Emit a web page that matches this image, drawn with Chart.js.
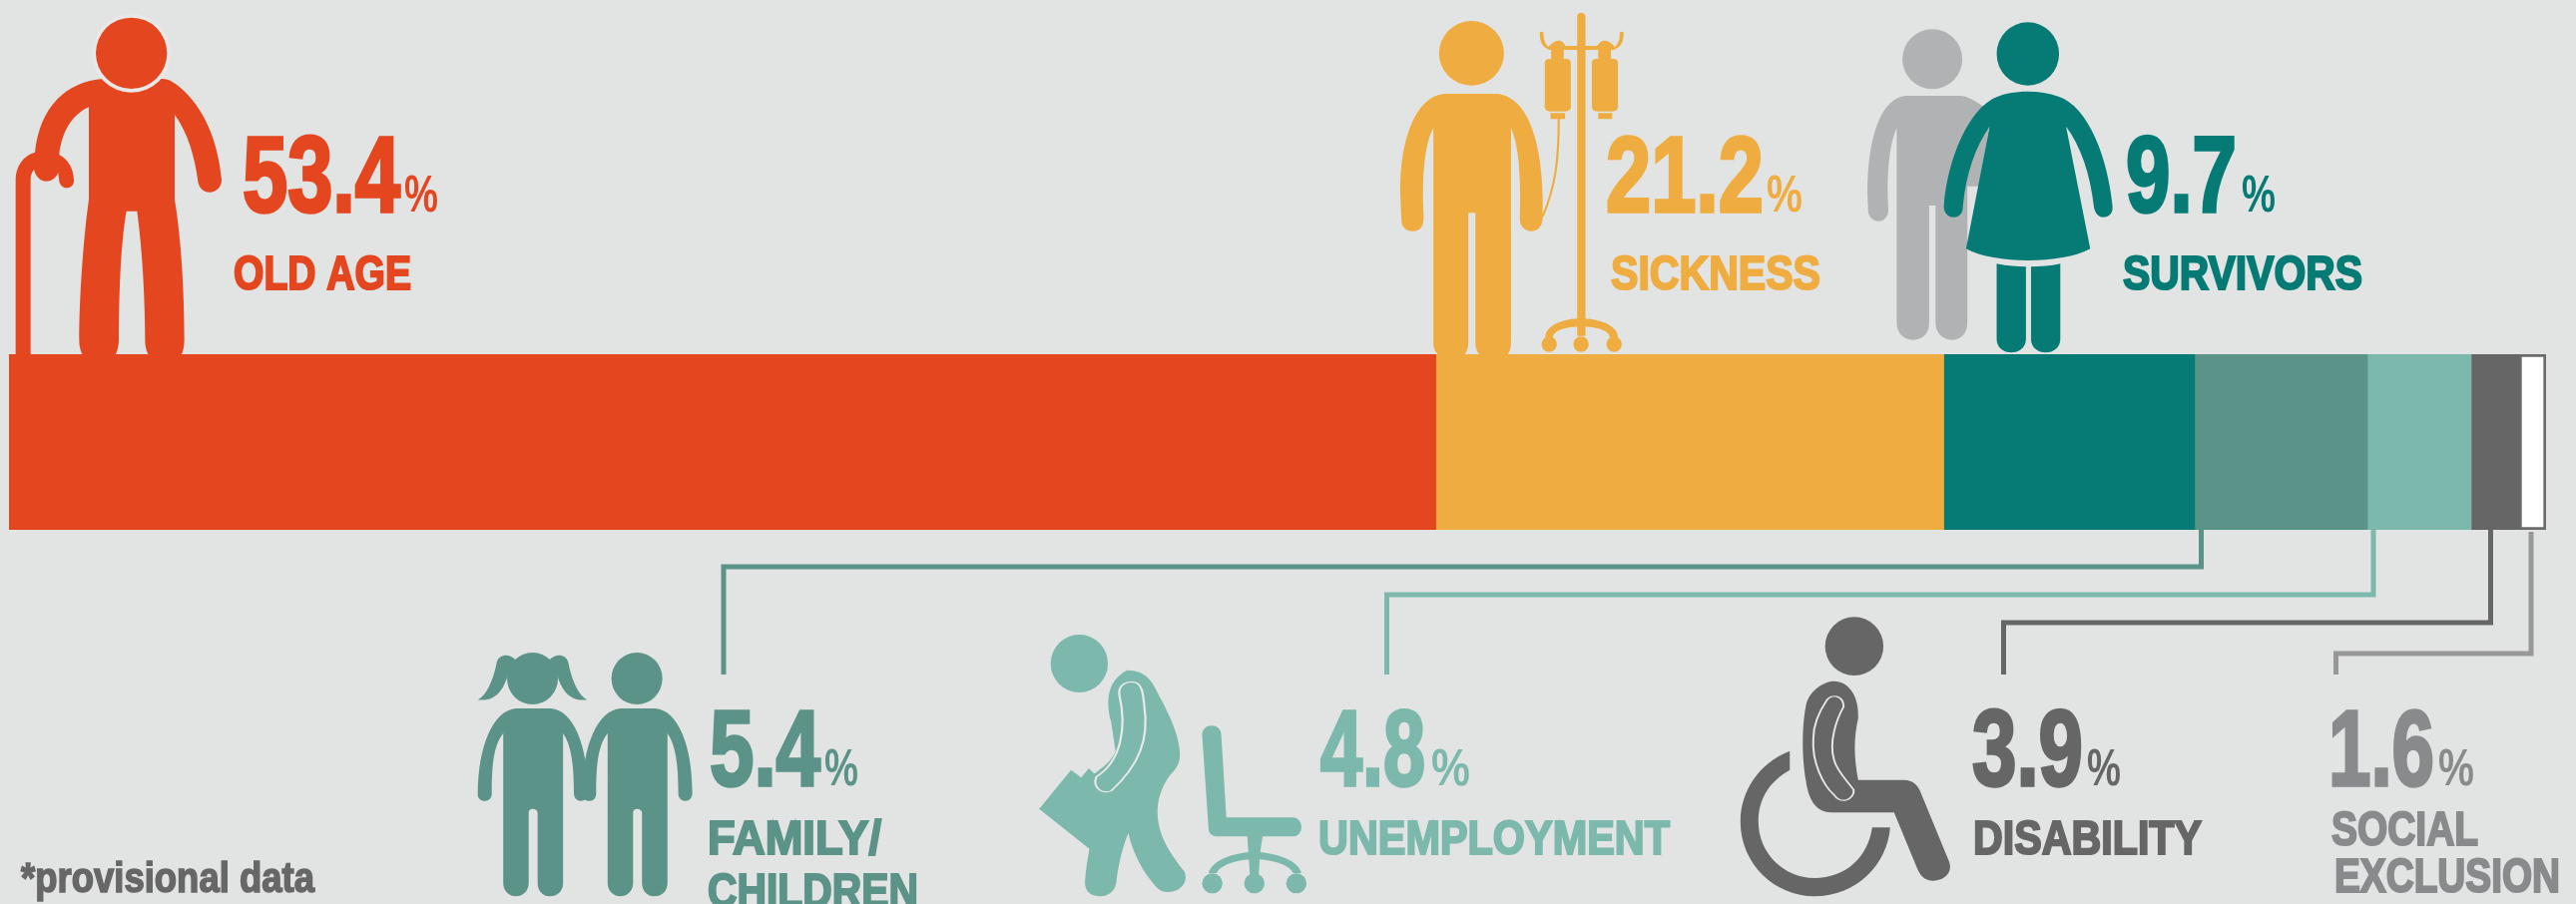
<!DOCTYPE html>
<html>
<head>
<meta charset="utf-8">
<title>Social benefits by function</title>
<script src="https://cdn.jsdelivr.net/npm/chart.js@4/dist/chart.umd.min.js"></script>
<style>
    html, body { margin: 0; padding: 0; background: #e2e4e3; overflow: hidden; }
    canvas { display: block; }
</style>
</head>
<body>
<canvas id="benefitsChart" width="2581" height="906"></canvas>
<script>
// data
const categories = ['OLD AGE', 'SICKNESS', 'SURVIVORS', 'FAMILY/CHILDREN', 'UNEMPLOYMENT', 'DISABILITY', 'SOCIAL EXCLUSION'];
// the percentages printed next to each icon
const printedShares = ['53.4', '21.2', '9.7', '5.4', '4.8', '3.9', '1.6'];
// the bar is not drawn quite to scale in the original, so these are the lengths measured on the bar
const barLengths = [56.24, 20.02, 9.89, 6.81, 4.09, 1.89, 1.06];
const footnote = '*provisional data';

const barColors = ['#e4471f', '#efad41', '#067a74', '#5c9388', '#7cb8ac', '#666666', '#ffffff'];
const textColors = ['#e4471f', '#efad41', '#067a74', '#5c9388', '#7cb8ac', '#666666', '#898a8c'];

// x, width of the number, x, width of the % sign, baseline
const numberBoxes = [
    [243, 158, 405, 34, 212],
    [1609, 158, 1770, 36, 212],
    [2130, 111, 2246, 34, 212],
    [711, 111, 826, 34, 787],
    [1323, 105, 1434, 39, 787],
    [1976, 111, 2091, 34, 787],
    [2333, 106, 2443, 36, 787]
];
// text line, x, width, baseline, colour index
const captionLines = [
    ['OLD AGE', 234, 178, 290, 0],
    ['SICKNESS', 1614, 210, 290, 1],
    ['SURVIVORS', 2127, 240, 290, 2],
    ['FAMILY/', 709, 174, 856, 3],
    ['CHILDREN', 709, 211, 909, 3],
    ['UNEMPLOYMENT', 1321, 352, 856, 4],
    ['DISABILITY', 1977, 229, 856, 5],
    ['SOCIAL', 2336, 147, 847, 6],
    ['EXCLUSION', 2339, 226, 894, 6]
];
// leader lines: bar x, y of the run, label x, colour
const leaders = [
    [2205.5, 568, 725, '#5c9388'],
    [2378, 596, 1389.5, '#7cb8ac'],
    [2495.5, 624, 2007.5, '#666666'],
    [2536, 655, 2340.5, '#989898']
];

function el(cx, cy, rx, ry) {
    return `M${cx - rx} ${cy}A${rx} ${ry} 0 1 0 ${cx + rx} ${cy}A${rx} ${ry} 0 1 0 ${cx - rx} ${cy}Z`;
}

// the pictograms, each drawn in its own little space
function inSpace(ctx, x, y, sx, sy, fn) {
    ctx.save();
    ctx.translate(x, y);
    ctx.scale(sx, sy);
    fn();
    ctx.restore();
}

function fill(ctx, color, d) {
    ctx.fillStyle = color;
    ctx.fill(new Path2D(d));
}

function outline(ctx, color, width, d) {
    ctx.strokeStyle = color;
    ctx.lineWidth = width;
    ctx.lineCap = 'round';
    ctx.stroke(new Path2D(d));
}

function drawOldMan(ctx) {
    const c = barColors[0];
    inSpace(ctx, 0, 0, 1 / 3, 1 / 3, () => {
        fill(ctx, c, 'M310 237C200 245 120 320 105 458C70 468 47 500 47 540L47 1070L92 1070L92 540C92 528 96 518 102 510C108 532 122 545 138 545C158 545 172 530 175 518C176 528 177 535 178 545C180 556 190 565 200 565C214 565 224 554 222 540C220 505 205 480 178 465C185 400 215 345 267 322L267 600C250 720 238 900 238 1025C238 1045 244 1060 250 1070L345 1070C353 1058 357 1040 357 1020C358 850 365 720 380 635L412 635C428 750 436 900 436 1025C436 1045 442 1060 448 1070L543 1070C551 1058 554 1040 554 1020C554 880 545 720 525 600L525 345C565 400 585 470 595 545C598 565 612 578 630 578C650 578 667 562 666 540C655 420 610 320 540 262C525 250 510 237 487 237Z');
        fill(ctx, '#e9e8e6', el(395, 160, 118, 118));
        fill(ctx, c, el(395, 160, 107, 107));
    });
}

function drawSickMan(ctx) {
    const c = barColors[1];
    inSpace(ctx, 1380, 0, 1 / 1.568, 1 / 3, () => {
        fill(ctx, c, el(148, 160, 51, 97));
        fill(ctx, c, 'M105 282C60 290 35 420 36 580L38 665C38 680 45 695 55 695C68 695 73 680 73 650C70 560 72 440 88 385L88 1030C88 1050 92 1060 97 1070L135 1070C140 1060 143 1050 143 1030L143 640L154 640L154 1030C154 1050 158 1060 162 1070L204 1070C207 1060 210 1050 210 1030L210 385C225 450 225 560 224 660C224 680 232 695 242 695C252 695 260 680 260 650C262 500 250 300 190 282Z');
        // drip stand
        fill(ctx, c, 'M314 50C314 42 317 38 320 38C323 38 327 42 327 50L327 1010L314 1010Z');
        fill(ctx, c, 'M270 138L370 138L370 150L270 150Z');
        fill(ctx, c, 'M273 150L293 150L293 177L273 177ZM347 150L367 150L367 177L347 177Z');
        fill(ctx, c, 'M270 138C275 128 280 122 285 122C290 122 294 130 296 140L270 150ZM345 140C347 130 352 122 357 122C362 122 367 128 372 138L370 150Z');
        outline(ctx, c, 6, 'M258 98C258 130 265 145 275 148M384 98C384 130 377 145 367 148');
        fill(ctx, c, 'M270 177L297 177C302 177 304 182 304 190L304 322C304 330 300 335 295 335L272 335C266 335 263 330 263 322L263 190C263 182 265 177 270 177Z');
        fill(ctx, c, 'M344 177L371 177C376 177 378 182 378 190L378 322C378 330 374 335 369 335L346 335C340 335 337 330 337 322L337 190C337 182 339 177 344 177Z');
        fill(ctx, c, 'M272 340L295 340L295 358L272 358ZM347 340L369 340L369 358L347 358Z');
        outline(ctx, c, 3.5, 'M285 358C285 480 280 560 260 650');
        fill(ctx, c, 'M264 1015C264 975 295 958 320 958C345 958 378 975 378 1015L365 1015C365 995 345 982 320 982C295 982 276 995 276 1015Z');
        fill(ctx, c, el(270, 1035, 12, 23));
        fill(ctx, c, el(320, 1035, 12, 23));
        fill(ctx, c, el(372, 1035, 12, 23));
    });
}

function drawCouple(ctx) {
    const c = barColors[2];
    const grey = '#b1b2b3';
    inSpace(ctx, 1380, 0, 1 / 1.568, 1 / 3, () => {
        fill(ctx, grey, el(872, 178, 47, 90));
        fill(ctx, grey, 'M830 288C790 295 770 420 770 580L771 630C771 650 778 665 787 665C797 665 803 650 803 630C800 540 803 440 816 385L816 970C816 1000 826 1022 842 1022C858 1022 867 1000 867 970L867 618L877 618L877 970C877 1000 888 1022 903 1022C918 1022 927 1000 927 970L927 560L945 560L965 340C940 300 925 288 915 288Z');
        fill(ctx, c, el(1022, 162, 49, 95));
        fill(ctx, c, 'M1022 275C1000 275 985 282 975 290C930 320 895 480 890 620C890 640 897 653 905 653C915 653 920 640 920 620C925 520 940 440 962 380L925 748C970 795 1075 795 1120 748L1082 380C1105 440 1120 520 1126 625C1128 642 1133 653 1140 653C1150 653 1156 640 1155 620C1148 480 1118 320 1070 290C1055 280 1040 275 1022 275Z');
        fill(ctx, c, 'M973 793C990 800 1005 802 1019 802L1019 1020C1019 1045 1008 1060 996 1060C984 1060 973 1045 973 1020Z');
        fill(ctx, c, 'M1027 802C1042 802 1058 800 1073 793L1073 1020C1073 1045 1062 1060 1050 1060C1038 1060 1027 1045 1027 1020Z');
    });
}

function kidBody(ctx, c, dx) {
    inSpace(ctx, dx, 0, 1, 1, () => {
        fill(ctx, c, 'M105 510C70 515 45 620 45 770C45 780 50 788 56 788C63 788 67 780 67 765C67 680 70 620 85 585L85 1035C85 1060 95 1075 105 1075C115 1075 125 1060 125 1035L125 825C125 815 128 812 131 812C135 812 139 815 139 825L139 1035C139 1060 148 1075 158 1075C170 1075 179 1060 179 1035L179 585C192 620 196 680 196 765C196 780 201 788 207 788C213 788 218 780 218 765C218 620 195 515 160 510Z');
    });
}

function drawChildren(ctx) {
    const c = barColors[3];
    inSpace(ctx, 450, 540, 1 / 1.568, 1 / 3, () => {
        fill(ctx, c, el(131, 420, 40, 78));
        fill(ctx, c, 'M105 365C95 345 80 345 75 370C70 420 60 470 45 484C70 490 85 460 92 410Z');
        fill(ctx, c, 'M157 365C167 345 182 345 187 370C192 420 202 470 217 484C192 490 177 460 170 410Z');
        kidBody(ctx, c, 0);
        fill(ctx, c, el(295, 420, 40, 78));
        kidBody(ctx, c, 164);
    });
}

function drawJobless(ctx) {
    const c = barColors[4];
    inSpace(ctx, 450, 540, 1 / 1.568, 1 / 3, () => {
        fill(ctx, c, el(990, 375, 45, 87));
        fill(ctx, c, 'M1065 395C1095 395 1105 430 1115 470C1135 540 1148 600 1148 650C1148 680 1140 695 1132 712C1118 750 1112 790 1113 830C1115 900 1135 950 1155 1000C1162 1030 1150 1062 1130 1062C1118 1062 1112 1050 1108 1040C1090 1000 1075 950 1067 885C1055 940 1050 1000 1048 1035C1046 1060 1035 1075 1023 1075C1008 1075 998 1060 999 1030C1000 1000 1003 960 1006 932L927 812L977 695L993 718L1005 690L1013 705L1015 705C1025 690 1040 670 1047 640L1040 550C1033 500 1030 430 1065 395Z');
        outline(ctx, '#e8eae9', 3.5, 'M1053 470C1050 440 1065 425 1078 432C1090 440 1090 470 1092 500C1100 600 1085 680 1040 758C1025 770 1010 745 1017 715C1055 670 1065 570 1053 470Z');
        // office chair
        fill(ctx, c, 'M1183 590C1183 572 1190 562 1198 562C1206 562 1213 572 1213 590L1221 838L1325 838C1334 838 1339 852 1339 866C1339 882 1334 895 1325 895L1278 895L1274 945L1272 1010L1258 1010L1254 895L1207 895C1197 895 1193 882 1193 870Z');
        fill(ctx, c, 'M1193 1005C1198 968 1230 943 1265 941C1300 943 1335 968 1339 1005L1326 1005C1322 985 1300 965 1265 963C1232 965 1210 985 1206 1005Z');
        fill(ctx, c, el(1199, 1036, 16, 30));
        fill(ctx, c, el(1265, 1036, 16, 30));
        fill(ctx, c, el(1331, 1036, 16, 30));
    });
}

function drawWheelchair(ctx) {
    const c = barColors[5];
    inSpace(ctx, 1700, 580, 1 / 1.78, 1 / 3, () => {
        fill(ctx, c, el(281, 203, 52, 88));
        fill(ctx, c, 'M245 308C270 308 290 350 288 420C280 480 280 530 288 605L370 605C385 605 395 620 400 645L450 850C458 885 440 908 422 908C405 908 398 890 393 870L352 703L240 703C215 703 200 670 195 610C185 510 190 420 195 380C200 340 225 308 245 308Z');
        outline(ctx, '#e8eae9', 3.5, 'M232 365C240 345 262 350 262 385C250 420 235 490 245 545C250 580 270 610 280 635C282 665 255 680 245 650C225 620 205 550 208 480C208 430 222 390 232 365Z');
        fill(ctx, c, 'M166 518C110 555 78 640 78 730C78 860 140 955 210 955C285 955 340 860 345 748L313 748C305 840 265 900 210 900C155 900 110 825 110 730C110 660 130 610 166 575Z');
    });
}

// draws a line of text squeezed to the width it has in the picture, thickened a bit with a stroke
function fitText(ctx, text, x, baseline, width, font, color, thicken) {
    ctx.save();
    ctx.font = font;
    ctx.fillStyle = color;
    ctx.strokeStyle = color;
    ctx.lineJoin = 'miter';
    ctx.lineWidth = thicken;
    ctx.textBaseline = 'alphabetic';
    ctx.textAlign = 'left';
    const measured = ctx.measureText(text).width;
    ctx.translate(x, baseline);
    ctx.scale(width / measured, 1);
    ctx.fillText(text, 0, 0);
    if (thicken > 0) ctx.strokeText(text, 0, 0);
    ctx.restore();
}

const narrow = '"Liberation Sans Narrow", "Liberation Sans"';

const infographicPlugin = {
    id: 'infographic',
    afterDraw(chart) {
        const ctx = chart.ctx;
        const bottom = chart.chartArea.bottom;
        drawOldMan(ctx);
        drawSickMan(ctx);
        drawCouple(ctx);
        drawChildren(ctx);
        drawJobless(ctx);
        drawWheelchair(ctx);

        leaders.forEach(([barX, runY, labelX, color], i) => {
            ctx.beginPath();
            ctx.moveTo(barX, i === 3 ? bottom + 2 : bottom);
            ctx.lineTo(barX, runY);
            ctx.lineTo(labelX, runY);
            ctx.lineTo(labelX, 676);
            ctx.strokeStyle = color;
            ctx.lineWidth = 5;
            ctx.lineJoin = 'miter';
            ctx.stroke();
        });

        printedShares.forEach((share, i) => {
            const [nx, nw, px, pw, base] = numberBoxes[i];
            fitText(ctx, share, nx, base, nw, `bold 108px ${narrow}`, textColors[i], 3.5);
            fitText(ctx, '%', px, base, pw, `bold 52px ${narrow}`, textColors[i], 0);
        });
        captionLines.forEach(([text, x, w, base, colorIndex]) => {
            fitText(ctx, text, x, base, w, `bold 49px ${narrow}`, textColors[colorIndex], 2.2);
        });
        fitText(ctx, footnote, 21, 894, 294, `bold 43px ${narrow}`, '#676767', 1.6);
    }
};

new Chart(document.getElementById('benefitsChart').getContext('2d'), {
    type: 'bar',
    data: {
        labels: ['share'],
        datasets: categories.map((name, i) => ({
            label: name,
            data: [barLengths[i]],
            backgroundColor: barColors[i],
            borderColor: i === categories.length - 1 ? '#6b6b6b' : barColors[i],
            borderWidth: i === categories.length - 1 ? 3 : 0,
            borderSkipped: false,
            barPercentage: 1,
            categoryPercentage: 1
        }))
    },
    options: {
        indexAxis: 'y',
        responsive: false,
        animation: false,
        devicePixelRatio: 1,
        layout: { padding: { left: 9, right: 30, top: 355, bottom: 375 } },
        scales: {
            x: { stacked: true, display: false, min: 0, max: 100 },
            y: { stacked: true, display: false }
        },
        plugins: { legend: { display: false }, tooltip: { enabled: false } }
    },
    plugins: [infographicPlugin]
});
</script>
</body>
</html>
